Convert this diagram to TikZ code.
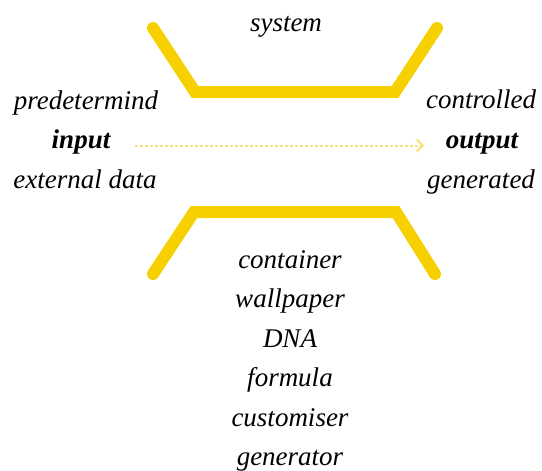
\documentclass[tikz,border=0pt]{standalone}
\usepackage{fontspec}
\setmainfont{Liberation Serif}
\usetikzlibrary{arrows.meta}
\definecolor{gold}{RGB}{246,208,0}
\definecolor{paleyellow}{RGB}{246,226,120}
\begin{document}
\begin{tikzpicture}[x=1pt,y=-1pt,
  lbl/.style={font=\fontsize{27}{32}\selectfont\itshape, anchor=base, inner sep=0pt},
  blbl/.style={lbl, font=\fontsize{27}{32}\selectfont\itshape\bfseries},
  wall/.style={gold, line width=12pt, line cap=round, line join=miter},
  flow/.style={paleyellow, line width=2pt, dash pattern=on 3pt off 2pt, -{Straight Barb[length=6pt,width=12pt,line width=2pt]}}]
\useasboundingbox (0,0) rectangle (542,471);
% walls
\draw[wall] (153,28) -- (195,92) -- (395,92) -- (437,28);
\draw[wall] (153,274) -- (194,212) -- (396,212) -- (435,274);
% labels
\node[lbl] (sys) at (286,31) {system};
\node[lbl] (pre) at (86,110) {predetermind};
\node[blbl] (in) at (81,148) {input};
\node[lbl] (ext) at (85,188) {external data};
\node[lbl] (ctl) at (481,108) {controlled};
\node[blbl] (out) at (482,148) {output};
\node[lbl] (gen) at (481,188) {generated};
\node[lbl] (l1) at (290,268) {container};
\node[lbl] (l2) at (290,307.5) {wallpaper};
\node[lbl] (l3) at (290,347) {DNA};
\node[lbl] (l4) at (290,386.5) {formula};
\node[lbl] (l5) at (290,426) {customiser};
\node[lbl] (l6) at (290,465.5) {generator};
% flow arrow
\coordinate (a0) at (135,145.5);
\coordinate (a1) at (424,145.5);
\draw[flow] (a0) -- (a1);
\end{tikzpicture}
\end{document}
